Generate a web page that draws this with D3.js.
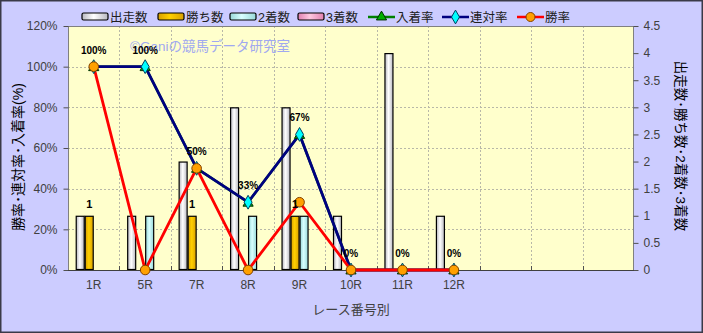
<!DOCTYPE html>
<html><head><meta charset="utf-8">
<script src="https://cdn.jsdelivr.net/npm/d3@7"></script>
<style>
html,body{margin:0;padding:0;background:#ccccff;}
svg{display:block;}
text{font-family:"Liberation Sans","Noto Sans CJK JP",sans-serif;}
</style></head>
<body>
<svg id="c" width="703" height="333"></svg>
<script>
// ---- data ----
const categories = ["1R","5R","7R","8R","9R","10R","11R","12R"];
const emptySlots = 3;
const runs   = [1,1,2,3,3,1,4,1];   // 出走数
const wins   = [1,0,1,0,1,0,0,0];   // 勝ち数
const second = [0,1,0,1,1,0,0,0];   // 2着数
const third  = [0,0,0,0,0,0,0,0];   // 3着数
const placeRate = [1,1,0.5,0.3333,0.6667,0,0,0]; // 入着率
const rentaiRate = [1,1,0.5,0.3333,0.6667,0,0,0]; // 連対率
const winRate = [1,0,0.5,0,0.3333,0,0,0];         // 勝率
const rateLabels = ["100%","100%","50%","33%","67%","0%","0%","0%"];
const leftTicks = [0,0.2,0.4,0.6,0.8,1.0,1.2];
const rightTicks = [0,0.5,1,1.5,2,2.5,3,3.5,4,4.5];
const barSeries = ["出走数","勝ち数","2着数","3着数"];
const lineSeries = ["入着率","連対率","勝率"];

const svg = d3.select("#c");
const W=703,H=333;
const P={l:68,r:634,t:26,b:270};

svg.append("rect").attr("x",0).attr("y",0).attr("width",W).attr("height",H).attr("fill","#ccccff");

const defs = svg.append("defs");
function grad(id, edge, mid){
  const g = defs.append("linearGradient").attr("id",id).attr("x1","0").attr("x2","1").attr("y1","0").attr("y2","0");
  g.append("stop").attr("offset","0%").attr("stop-color",edge);
  g.append("stop").attr("offset","45%").attr("stop-color",mid);
  g.append("stop").attr("offset","100%").attr("stop-color",edge);
}
grad("gW","#b8b8c0","#ffffff");
grad("gG","#d8a000","#ffd000");
grad("gC","#98d8d8","#d8ffff");
grad("gP","#e080b0","#ffc8e0");
const barFill = ["url(#gW)","url(#gG)","url(#gC)","url(#gP)"];

const slots = d3.range(categories.length + emptySlots);
const x = d3.scaleBand().domain(slots).range([P.l,P.r]).padding(0);
const xs = d3.scaleBand().domain(barSeries).range([0,36]);
const yL = d3.scaleLinear().domain([0,1.2]).range([P.b,P.t]);
const yR = d3.scaleLinear().domain([0,4.5]).range([P.b,P.t]);

// plot area
svg.append("rect").attr("x",P.l).attr("y",P.t).attr("width",P.r-P.l).attr("height",P.b-P.t).attr("fill","#ffffcc");

// gridlines
const grid = svg.append("g").attr("stroke","#b8b8a8").attr("stroke-dasharray","2,2").attr("stroke-width",1);
leftTicks.slice(1,-1).forEach(t=>{
  grid.append("line").attr("x1",P.l).attr("x2",P.r).attr("y1",Math.round(yL(t))+0.5).attr("y2",Math.round(yL(t))+0.5);
});
slots.slice(1).forEach(s=>{
  const xx = Math.round(x(s))+0.5;
  grid.append("line").attr("x1",xx).attr("x2",xx).attr("y1",P.t).attr("y2",P.b);
});

// bars
const barData = [runs,wins,second,third];
const gb = svg.append("g");
categories.forEach((c,i)=>{
  const cx = x(i)+x.bandwidth()/2 - 18;
  barSeries.forEach((s,k)=>{
    const v = barData[k][i];
    if(v<=0) return;
    gb.append("rect")
      .attr("x",cx+xs(s)+0.5).attr("y",yR(v)+0.5)
      .attr("width",xs.bandwidth()-1).attr("height",yR(0)-yR(v)-1)
      .attr("fill",barFill[k]).attr("stroke","#000").attr("stroke-width",1.2);
  });
});

// plot border
svg.append("rect").attr("x",P.l+0.5).attr("y",P.t+0.5).attr("width",P.r-P.l-1).attr("height",P.b-P.t).attr("fill","none").attr("stroke","#808080");

// axes
const axL = d3.axisLeft(yL).tickValues(leftTicks).tickFormat(d=>Math.round(d*100)+"%").tickSize(5).tickPadding(6);
const gL = svg.append("g").attr("transform",`translate(${P.l+0.5},0)`).call(axL);
const axR = d3.axisRight(yR).tickValues(rightTicks).tickFormat(d=>String(d)).tickSize(5).tickPadding(5);
const gR = svg.append("g").attr("transform",`translate(${P.r-0.5},0)`).call(axR);
const axB = d3.axisBottom(x).tickFormat(i=>categories[i]||"").tickSize(0).tickPadding(10);
const gB = svg.append("g").attr("transform",`translate(0,${P.b})`).call(axB);
[gL,gR,gB].forEach(g=>{
  g.select(".domain").remove();
  g.selectAll("text").attr("font-size",12).attr("fill","#404040").attr("font-family","Liberation Sans, sans-serif");
  g.selectAll("line").attr("stroke","#505050");
});
// inner x ticks at boundaries
slots.slice(1).forEach(s=>{
  const xx = Math.round(x(s))+0.5;
  svg.append("line").attr("x1",xx).attr("x2",xx).attr("y1",P.b-4).attr("y2",P.b).attr("stroke","#505050");
});
svg.append("line").attr("x1",P.l).attr("x2",P.r).attr("y1",P.b+0.5).attr("y2",P.b+0.5).attr("stroke","#404040");

// watermark
svg.append("text").attr("x",130).attr("y",51).text("©Ganiの競馬データ研究室")
  .attr("font-size",13.5).attr("fill","#a0a8f0").attr("font-family","Noto Sans CJK JP, sans-serif");

// lines
const cxOf = i => x(i)+x.bandwidth()/2;
const lineGen = arr => d3.line().x((d,i)=>cxOf(i)).y(d=>yL(d))(arr);
svg.append("path").attr("d",lineGen(placeRate)).attr("fill","none").attr("stroke","#008000").attr("stroke-width",2.5);
svg.append("path").attr("d",lineGen(rentaiRate)).attr("fill","none").attr("stroke","#000080").attr("stroke-width",2.8);
svg.append("path").attr("d",lineGen(winRate)).attr("fill","none").attr("stroke","#ff0000").attr("stroke-width",2.8);

// markers
const tri = d3.symbol().type(d3.symbolTriangle).size(45);
placeRate.forEach((v,i)=>{
  svg.append("path").attr("d",tri()).attr("transform",`translate(${cxOf(i)},${yL(v)+1})`)
    .attr("fill","#00b000").attr("stroke","#003000").attr("stroke-width",1);
});
const dia = d3.symbol().type(d3.symbolDiamond).size(55);
rentaiRate.forEach((v,i)=>{
  svg.append("path").attr("d",dia()).attr("transform",`translate(${cxOf(i)},${yL(v)})`)
    .attr("fill","#00ffff").attr("stroke","#004060").attr("stroke-width",1);
});
winRate.forEach((v,i)=>{
  svg.append("circle").attr("cx",cxOf(i)).attr("cy",yL(v)).attr("r",4.8)
    .attr("fill","#ffa000").attr("stroke","#804000").attr("stroke-width",1);
});

// rate labels
rentaiRate.forEach((v,i)=>{
  svg.append("text").attr("x",cxOf(i)).attr("y",yL(v)-13).attr("text-anchor","middle")
    .attr("font-size",10).attr("font-weight","bold").attr("fill","#000").text(rateLabels[i]);
});
// win count labels
wins.forEach((v,i)=>{
  if(v<=0) return;
  const bx = x(i)+x.bandwidth()/2-18+xs("勝ち数")+xs.bandwidth()/2;
  svg.append("text").attr("x",bx).attr("y",yR(v)-8).attr("text-anchor","middle")
    .attr("font-size",11).attr("font-weight","bold").attr("fill","#000").text(v);
});

// axis titles
svg.append("text").attr("transform",`translate(23,157) rotate(-90)`).attr("text-anchor","middle")
  .attr("font-size",14).attr("fill","#000").attr("font-family","Noto Sans CJK JP, sans-serif").text("勝率･連対率･入着率(%)");
svg.append("text").attr("transform",`translate(676,146) rotate(90)`).attr("text-anchor","middle")
  .attr("font-size",13.5).attr("fill","#000").attr("font-family","Noto Sans CJK JP, sans-serif").text("出走数･勝ち数･2着数･3着数");
svg.append("text").attr("x",(P.l+P.r)/2).attr("y",314).attr("text-anchor","middle")
  .attr("font-size",13).attr("fill","#404040").attr("font-family","Noto Sans CJK JP, sans-serif").text("レース番号別");

// legend
const legend = svg.append("g");
const legX = [82,158,230,298,368,442,517];
const legendNames = barSeries.concat(lineSeries);
legendNames.forEach((n,k)=>{
  const lx = legX[k], ly = 17;
  if(k<4){
    legend.append("rect").attr("x",lx).attr("y",ly-4).attr("width",26).attr("height",7).attr("rx",1.5)
      .attr("fill",barFill[k]).attr("stroke","#000").attr("stroke-width",1.2);
  } else {
    const col = ["#008000","#000080","#ff0000"][k-4];
    legend.append("line").attr("x1",lx).attr("x2",lx+27).attr("y1",ly).attr("y2",ly).attr("stroke",col).attr("stroke-width",2.5);
    const mx = lx+13.5;
    if(k===4) legend.append("path").attr("d",tri()).attr("transform",`translate(${mx},${ly})`).attr("fill","#00b000").attr("stroke","#003000");
    if(k===5) legend.append("path").attr("d",dia()).attr("transform",`translate(${mx},${ly})`).attr("fill","#00ffff").attr("stroke","#004060");
    if(k===6) legend.append("circle").attr("cx",mx).attr("cy",ly).attr("r",4.5).attr("fill","#ffa000").attr("stroke","#804000");
  }
  legend.append("text").attr("x",lx+28).attr("y",ly+5).attr("font-size",12.5).attr("fill","#202020")
    .attr("font-family","Noto Sans CJK JP, sans-serif").text(n);
});

// outer border
svg.append("rect").attr("x",0.75).attr("y",0.75).attr("width",W-1.5).attr("height",H-1.5).attr("fill","none").attr("stroke","#3a3a48").attr("stroke-width",1.5);
</script>
</body></html>
